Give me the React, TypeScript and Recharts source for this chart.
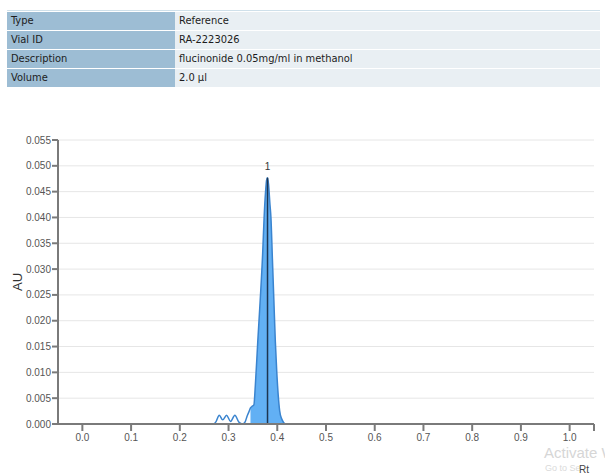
import React from 'react';
import {
  ComposedChart, Line, Area, XAxis, YAxis, CartesianGrid, ReferenceLine, ReferenceDot, Label,
} from 'recharts';

const infoLabels = ['Type', 'Vial ID', 'Description', 'Volume'];
const infoValues = ['Reference', 'RA-2223026', 'flucinonide 0.05mg/ml in methanol', '2.0 µl'];

const rtValues = [
  0.270, 0.274, 0.281, 0.288, 0.296, 0.304, 0.313, 0.321, 0.329, 0.334, 0.338, 0.342,
  0.345, 0.348, 0.352, 0.355, 0.360, 0.365, 0.370, 0.373, 0.376, 0.378, 0.380, 0.382, 0.385, 0.387,
  0.390, 0.393, 0.396, 0.399, 0.402, 0.405, 0.409, 0.413, 0.416,
];
const auValues = [
  0.0000, 0.0004, 0.0017, 0.0008, 0.0017, 0.0005, 0.0017, 0.0004, 0.0000, 0.0004, 0.0015, 0.0024,
  0.0031, 0.0034, 0.0037, 0.0075, 0.0160, 0.0240, 0.0330, 0.0400, 0.0450, 0.0472, 0.0477, 0.0465, 0.0425, 0.0400,
  0.0320, 0.0240, 0.0160, 0.0100, 0.0055, 0.0025, 0.0010, 0.0003, 0.0000,
];
const peakStartRt = 0.345;
const peakEndRt = 0.416;
const peakRt = 0.380;
const peakAu = 0.0477;
const peakName = '1';

const xTicks = [0, 0.1, 0.2, 0.3, 0.4, 0.5, 0.6, 0.7, 0.8, 0.9, 1.0, 1.05];
const yTicks = [0, 0.005, 0.01, 0.015, 0.02, 0.025, 0.03, 0.035, 0.04, 0.045, 0.05, 0.055];

const data = rtValues.map((rt, i) => ({
  rt,
  au: auValues[i],
  peak: rt >= peakStartRt && rt <= peakEndRt ? auValues[i] : null,
}));

const axisColor = '#7a7a7a';
const font = 'Liberation Sans, Arial, sans-serif';
const tickStyle = { fontSize: 10, fill: '#555', fontFamily: font };

export default function App() {
  return (
    <div style={{ position: 'absolute', left: 0, top: 0, width: 605, height: 476, background: '#fff', overflow: 'hidden' }}>
      <div style={{ position: 'absolute', left: 7, top: 10, width: 593, height: 1, background: '#cfe0ea' }} />
      {infoLabels.map((lab, i) => (
        <div key={lab} style={{ position: 'absolute', left: 7, top: 12 + i * 19, width: 593, height: 18, display: 'flex', fontFamily: '"DejaVu Sans Condensed", "DejaVu Sans", sans-serif', fontSize: 11, color: '#1c1c1c' }}>
          <div style={{ width: 168, background: '#9dbdd4', paddingLeft: 4, lineHeight: '18px', boxSizing: 'border-box' }}>{lab}</div>
          <div style={{ flex: 1, background: '#e9eff3', paddingLeft: 4, lineHeight: '18px', boxSizing: 'border-box' }}>{infoValues[i]}</div>
        </div>
      ))}
      <div style={{ position: 'absolute', left: 0, top: 0 }}>
        <ComposedChart width={605} height={476} data={data} margin={{ top: 140, right: 11, bottom: 22, left: 8 }}>
          <CartesianGrid stroke="#e6e6e6" strokeWidth={1}
            verticalCoordinatesGenerator={(p: any) => {
              try {
                const s = p.xAxis.scale;
                return xTicks.filter((t) => t <= 1).map((t) => s(t));
              } catch (e) {
                return [];
              }
            }} />
          <XAxis dataKey="rt" type="number" domain={[-0.05, 1.05]} ticks={xTicks} allowDataOverflow
            tickFormatter={(v: number) => (v > 1.0001 ? '' : v.toFixed(1))}
            stroke={axisColor} strokeWidth={2} tickSize={7} tickMargin={3} tick={tickStyle} height={30} interval={0} />
          <YAxis type="number" domain={[0, 0.055]} ticks={yTicks} allowDataOverflow
            tickFormatter={(v: number) => v.toFixed(3)}
            stroke={axisColor} strokeWidth={2} tickSize={6} tickMargin={1} tick={tickStyle} width={50} interval={0} />
          <Area dataKey="peak" type="monotone" fill="#62b0f4" fillOpacity={1} stroke="none" isAnimationActive={false} connectNulls={false} dot={false} activeDot={false} />
          <Line dataKey="au" type="monotone" stroke="#3a84cf" strokeWidth={1.5} dot={false} activeDot={false} isAnimationActive={false} />
          <ReferenceLine segment={[{ x: peakRt, y: 0 }, { x: peakRt, y: peakAu }]} stroke="#1d3550" strokeWidth={1.5} />
          <ReferenceDot x={peakRt} y={peakAu} r={0} fill="none" stroke="none">
            <Label value={peakName} position="top" offset={8} style={{ fontSize: 10, fill: '#333', fontFamily: font }} />
          </ReferenceDot>
        </ComposedChart>
      </div>
      <div style={{ position: 'absolute', left: 17, top: 282, transform: 'translate(-50%, -50%) rotate(-90deg)', fontFamily: font, fontSize: 13, color: '#333', whiteSpace: 'nowrap' }}>AU</div>
      <div style={{ position: 'absolute', left: 544, top: 444, fontFamily: font, fontSize: 15, color: '#d6d6d6', whiteSpace: 'nowrap' }}>Activate Wi</div>
      <div style={{ position: 'absolute', left: 545, top: 463, fontFamily: font, fontSize: 9, color: '#dadada', whiteSpace: 'nowrap' }}>Go to Se</div>
      <div style={{ position: 'absolute', left: 579, top: 464, fontFamily: font, fontSize: 10, color: '#444', whiteSpace: 'nowrap' }}>Rt</div>
    </div>
  );
}
